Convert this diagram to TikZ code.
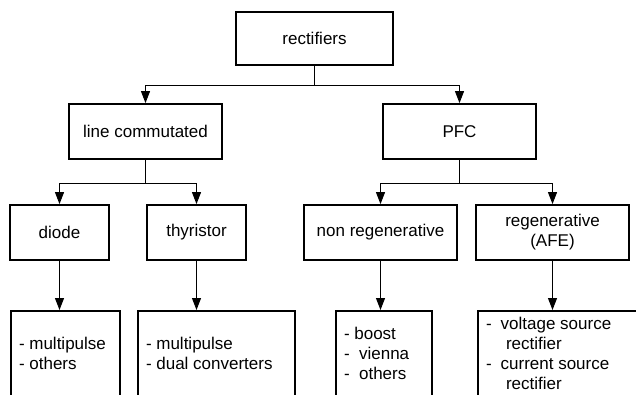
\documentclass[tikz,border=0pt]{standalone}
\usepackage{fontspec}
\setmainfont{Liberation Sans}
\usetikzlibrary{arrows.meta}
\tikzset{
    box/.style={shape=rectangle,draw,line width=1.8pt,inner sep=0pt,align=center,
        font=\fontsize{17}{20}\selectfont},
    leaf/.style={shape=rectangle,draw,line width=1.8pt,inner xsep=8pt,inner ysep=0pt,
        anchor=north,align=flush left,text width=#1,minimum height=86pt,
        font=\fontsize{17}{20}\selectfont},
    link/.style={line width=1pt,-{Triangle[length=12pt,width=9pt]}},
}
\begin{document}
\begin{tikzpicture}[x=1pt,y=-1pt]
    \useasboundingbox (0,0) rectangle (636,394);
    \clip (0,0) rectangle (636,394);
    % tree of boxes
    \node[box,minimum width=157pt,minimum height=53pt] (root) at (314.5,38.5) {rectifiers};
    \node[box,minimum width=153pt,minimum height=55pt] (lc)   at (145.5,131.5) {line commutated};
    \node[box,minimum width=153pt,minimum height=55pt] (pfc)  at (459.5,131.5) {PFC};
    \node[box,minimum width=99pt,minimum height=55pt]  (diode)  at (59.5,232.5) {diode};
    \node[box,minimum width=99pt,minimum height=55pt]  (thyr)   at (196.5,232.5) {thyristor};
    \node[box,minimum width=153pt,minimum height=55pt] (nonreg) at (380.5,232.5) {non regenerative};
    \node[box,minimum width=153pt,minimum height=55pt] (regen)  at (552.5,232.5) {regenerative\\(AFE)};
    \node[leaf=93pt]  (diodel)  at (65.5,310) {- multipulse\\- others};
    \node[leaf=141pt] (thyrl)   at (216.5,310) {- multipulse\\- dual converters};
    \node[leaf=80pt]  (nonregl) at (384,310) {- boost\\-\ \ vienna\\-\ \ others};
    \node[leaf=144pt] (regenl)  at (558,310) {-\hspace{9pt}voltage source\\\hspace*{20pt}rectifier\\-\hspace{9pt}current source\\\hspace*{20pt}rectifier};
    % connectors
    \draw[link] (root.south) -- ++(0,20) -| (lc.north);
    \draw[link] (root.south) -- ++(0,20) -| (pfc.north);
    \draw[link] (lc.south) -- ++(0,24) -| (diode.north);
    \draw[link] (lc.south) -- ++(0,24) -| (thyr.north);
    \draw[link] (pfc.south) -- ++(0,24) -| (nonreg.north);
    \draw[link] (pfc.south) -- ++(0,24) -| (regen.north);
    \draw[link] (diode.south) -- (diode.south |- diodel.north);
    \draw[link] (thyr.south) -- (thyr.south |- thyrl.north);
    \draw[link] (nonreg.south) -- (nonreg.south |- nonregl.north);
    \draw[link] (regen.south) -- (regen.south |- regenl.north);
\end{tikzpicture}
\end{document}
